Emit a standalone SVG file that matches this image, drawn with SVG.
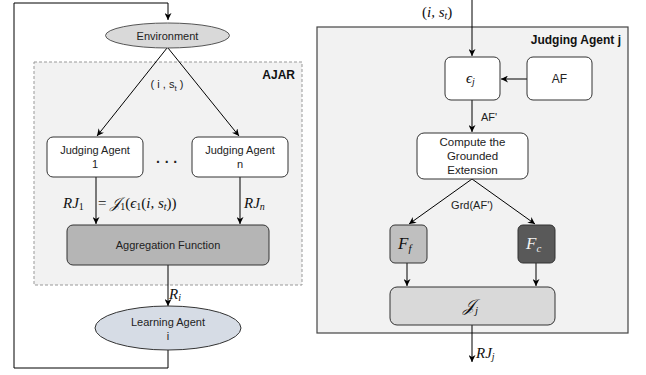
<svg xmlns="http://www.w3.org/2000/svg" width="646" height="375" viewBox="0 0 646 375">
<defs>
<marker id="ah" viewBox="0 0 10 10" refX="10" refY="5" markerWidth="7" markerHeight="7" orient="auto" markerUnits="userSpaceOnUse">
<path d="M0,0 L10,5 L0,10 L3,5 z" fill="#000"/>
</marker>
<style>
.t{font-family:"Liberation Sans",Arial,sans-serif;font-size:11px;fill:#222;text-anchor:middle}
.b{font-family:"Liberation Sans",Arial,sans-serif;font-size:12px;font-weight:bold;fill:#111;text-anchor:end}
.m{font-family:"Liberation Serif","DejaVu Serif",serif;font-size:15px;font-style:italic;fill:#111}
.mu{font-family:"Liberation Serif","DejaVu Serif",serif;font-size:15px;font-style:normal;fill:#111}
.s{font-size:10px}
.ln{fill:none;stroke:#000;stroke-width:1}
.ar{fill:none;stroke:#000;stroke-width:1;marker-end:url(#ah)}
.box{stroke:#333;stroke-width:1}
</style>
</defs>
<rect width="646" height="375" fill="#fff"/>

<!-- containers -->
<g id="ajar">
<rect x="34" y="62" width="268" height="223" fill="#f2f2f2" stroke="#999" stroke-width="1" stroke-dasharray="3,2"/>
<text class="b" x="295" y="79">AJAR</text>
</g>
<g id="judging-agent-j">
<rect x="317" y="27" width="311" height="306" fill="#f2f2f2" stroke="#444" stroke-width="1.2"/>
<text class="b" x="621" y="44">Judging Agent j</text>
</g>

<!-- connectors -->
<g id="connectors">
<path class="ln" d="M168,350 V368 H14 V3 H168"/>
<path class="ar" d="M168,3 V20"/>
<path class="ar" d="M167,48 L97,136"/>
<path class="ar" d="M168,48 L239,136"/>
<path class="ar" d="M96,177 V224"/>
<path class="ar" d="M240,177 V224"/>
<path class="ar" d="M168,265 V306" stroke="#333"/>
<path class="ar" d="M472,0 V56"/>
<path class="ar" d="M527,79 L501,79"/>
<path class="ar" d="M472,100 V132"/>
<path class="ar" d="M472,179 L409,224"/>
<path class="ar" d="M472,179 L535,224"/>
<path class="ar" d="M407,263 V286"/>
<path class="ar" d="M536,263 V286"/>
<path class="ar" d="M472,325 V362"/>
</g>

<!-- connector labels -->
<g id="labels">
<text class="t" x="167" y="88">( i , s<tspan font-size="8" dy="3">t</tspan><tspan dy="-3"> )</tspan></text>
<text x="63" y="208"><tspan class="m">RJ</tspan><tspan class="mu s" dy="2">1</tspan></text>
<text x="98" y="208"><tspan class="mu">= </tspan><tspan class="m">𝒥</tspan><tspan class="mu s" dy="2">1</tspan><tspan class="mu" dy="-2">(</tspan><tspan class="m">ϵ</tspan><tspan class="mu s" dy="2">1</tspan><tspan class="mu" dy="-2">(</tspan><tspan class="m">i, s</tspan><tspan class="m s" dy="2">t</tspan><tspan class="mu" dy="-2">))</tspan></text>
<text x="244" y="208"><tspan class="m">RJ</tspan><tspan class="m s" dy="2">n</tspan></text>
<text x="169" y="299"><tspan class="m">R</tspan><tspan class="m s" dy="2">i</tspan></text>
<text x="422" y="17"><tspan class="mu">(</tspan><tspan class="m">i, s</tspan><tspan class="m s" dy="2">t</tspan><tspan class="mu" dy="-2">)</tspan></text>
<text class="t" x="481" y="121" style="text-anchor:start">AF'</text>
<text class="t" x="472" y="209">Grd(AF')</text>
<text x="476" y="358"><tspan class="m">RJ</tspan><tspan class="m s" dy="2">j</tspan></text>
</g>

<!-- nodes -->
<g id="environment">
<ellipse cx="167.5" cy="35.5" rx="62" ry="12.5" fill="#d9d9d9" stroke="#555" stroke-width="1"/>
<text class="t" x="167.5" y="39.5">Environment</text>
</g>
<g id="judging-agent-1">
<rect class="box" x="47" y="137" width="96" height="40" rx="6" fill="#fff"/>
<text class="t" x="95" y="154">Judging Agent</text>
<text class="t" x="95" y="168">1</text>
</g>
<g id="dots">
<text class="t" x="167" y="167" style="font-size:14px;font-weight:bold">·  ·  ·</text>
</g>
<g id="judging-agent-n">
<rect class="box" x="192" y="137" width="96" height="40" rx="6" fill="#fff"/>
<text class="t" x="240" y="154">Judging Agent</text>
<text class="t" x="240" y="168">n</text>
</g>
<g id="aggregation-function">
<rect class="box" x="67" y="225" width="202" height="40" rx="6" fill="#b5b5b5"/>
<text class="t" x="168" y="249">Aggregation Function</text>
</g>
<g id="learning-agent">
<ellipse cx="168" cy="328" rx="73" ry="22" fill="#d6dce5" stroke="#333" stroke-width="1"/>
<text class="t" x="168" y="326">Learning Agent</text>
<text class="t" x="168" y="340">i</text>
</g>
<g id="epsilon-j">
<rect class="box" x="445" y="57" width="55" height="43" rx="6" fill="#fff"/>
<text x="466" y="83"><tspan class="m">ϵ</tspan><tspan class="m s" dy="2">j</tspan></text>
</g>
<g id="af">
<rect class="box" x="527" y="57" width="65" height="43" rx="6" fill="#fff"/>
<text class="t" x="559.5" y="83" style="font-size:12px">AF</text>
</g>
<g id="compute-grounded">
<rect class="box" x="417" y="133" width="111" height="46" rx="7" fill="#fff"/>
<text class="t" x="472.5" y="146" style="font-size:11.5px">Compute the</text>
<text class="t" x="472.5" y="160" style="font-size:11.5px">Grounded</text>
<text class="t" x="472.5" y="174" style="font-size:11.5px">Extension</text>
</g>
<g id="f-f">
<rect class="box" x="390" y="225" width="37" height="38" rx="5" fill="#bfbfbf"/>
<text x="398" y="249"><tspan class="m" style="font-size:17px">F</tspan><tspan class="m" style="font-size:11px" dy="3">f</tspan></text>
</g>
<g id="f-c">
<rect class="box" x="518" y="225" width="37" height="38" rx="5" fill="#595959"/>
<text x="526" y="249"><tspan class="m" style="font-size:17px;fill:#f2f2f2">F</tspan><tspan class="m" style="font-size:11px;fill:#f2f2f2" dy="3">c</tspan></text>
</g>
<g id="j-j">
<rect class="box" x="390" y="287" width="165" height="38" rx="7" fill="#d9d9d9"/>
<text x="463" y="311"><tspan class="m" style="font-size:17px">𝒥</tspan><tspan class="m" style="font-size:11px" dy="3">j</tspan></text>
</g>
</svg>
